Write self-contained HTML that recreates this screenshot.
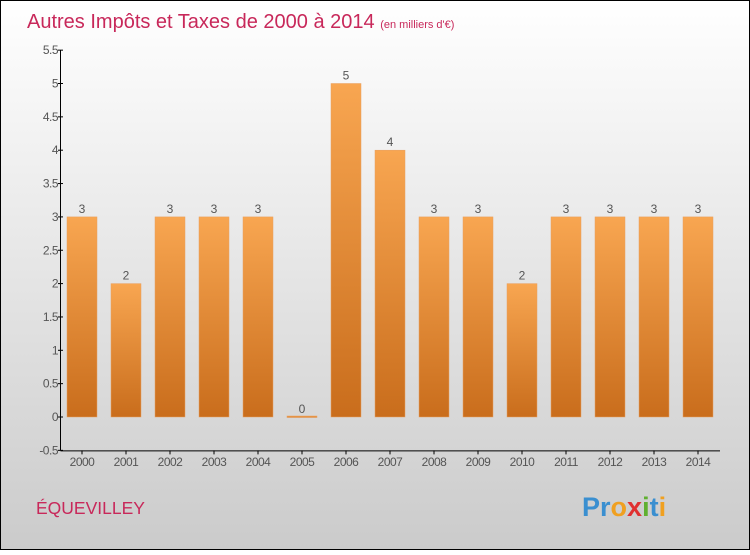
<!DOCTYPE html>
<html><head><meta charset="utf-8"><style>
body{margin:0;width:750px;height:550px;overflow:hidden;font-family:"Liberation Sans",sans-serif}
</style></head><body>
<svg id="c" width="750" height="550" xmlns="http://www.w3.org/2000/svg">
<defs>
<linearGradient id="bg" x1="0" y1="0" x2="0" y2="1"><stop offset="0" stop-color="#ffffff"/><stop offset="1" stop-color="#cbcbcb"/></linearGradient>
<linearGradient id="bar" x1="0" y1="0" x2="0" y2="1"><stop offset="0" stop-color="#f8a651"/><stop offset="1" stop-color="#c96d1c"/></linearGradient>
</defs>
<rect x="0.5" y="0.5" width="749" height="549" fill="url(#bg)" stroke="#000"/>
<text x="27" y="28" font-size="20" fill="#c8285a">Autres Impôts et Taxes de 2000 à 2014 <tspan font-size="11">(en milliers d'€)</tspan></text>
<text x="36" y="514" font-size="17.5" fill="#c8285a">ÉQUEVILLEY</text>
<text x="582" y="516" font-size="27" font-weight="bold"><tspan fill="#3a8fd0">Pr</tspan><tspan fill="#f0a020">o</tspan><tspan fill="#e03030">x</tspan><tspan fill="#60b030">i</tspan><tspan fill="#3a8fd0">t</tspan><tspan fill="#f0a020">i</tspan></text>
<g id="axes"></g>
<g id="bars"></g>
</svg>
<script>
const years=["2000","2001","2002","2003","2004","2005","2006","2007","2008","2009","2010","2011","2012","2013","2014"];
const values=[3,2,3,3,3,0,5,4,3,3,2,3,3,3,3];
const yTicks=["-0.5","0","0.5","1","1.5","2","2.5","3","3.5","4","4.5","5","5.5"];
const ns="http://www.w3.org/2000/svg";
const y0=417,unit=66.7;
function ys(v){return y0-v*unit;}
function xs(i){return 82+i*44;}
function mk(t,a,p,txt){const e=document.createElementNS(ns,t);for(const k in a)e.setAttribute(k,a[k]);if(txt!==undefined)e.textContent=txt;p.appendChild(e);return e;}
const ax=document.getElementById('axes'),bg=document.getElementById('bars');
let l=mk('line',{x1:60.5,y1:ys(5.5),x2:60.5,y2:ys(-0.5),stroke:'#000'},ax);


l=mk('line',{x1:60.5,y1:ys(-0.5)+0.5,x2:720,y2:ys(-0.5)+0.5,stroke:'#000'},ax);


yTicks.forEach(t=>{const v=parseFloat(t),y=ys(v);
 mk('line',{x1:58,y1:y,x2:63,y2:y,stroke:'#000'},ax);
 const tx=mk('text',{x:58,y:y+4,'font-size':12,fill:'#555','text-anchor':'end','letter-spacing':'-0.5'},ax,t);
 
 });
years.forEach((yr,i)=>{const x=xs(i),v=values[i];
 mk('line',{x1:x,y1:ys(-0.5),x2:x,y2:ys(-0.5)+4,stroke:'#000'},ax);
 const tx=mk('text',{x:x,y:466,'font-size':12,fill:'#555','text-anchor':'middle','letter-spacing':'-0.5'},ax,yr);
 
 
 const h=Math.max(1.5,v*unit);
 const r=mk('rect',{x:x-15,y:ys(v)-(v===0?1:0),width:30,height:h,fill:'url(#bar)',stroke:'#e8a060','stroke-width':0.5},bg);
 
 
 const lb=mk('text',{x:x,y:ys(v)-4,'font-size':12,fill:'#555','text-anchor':'middle'},bg,String(v));
 
 });
</script>
</body></html>
